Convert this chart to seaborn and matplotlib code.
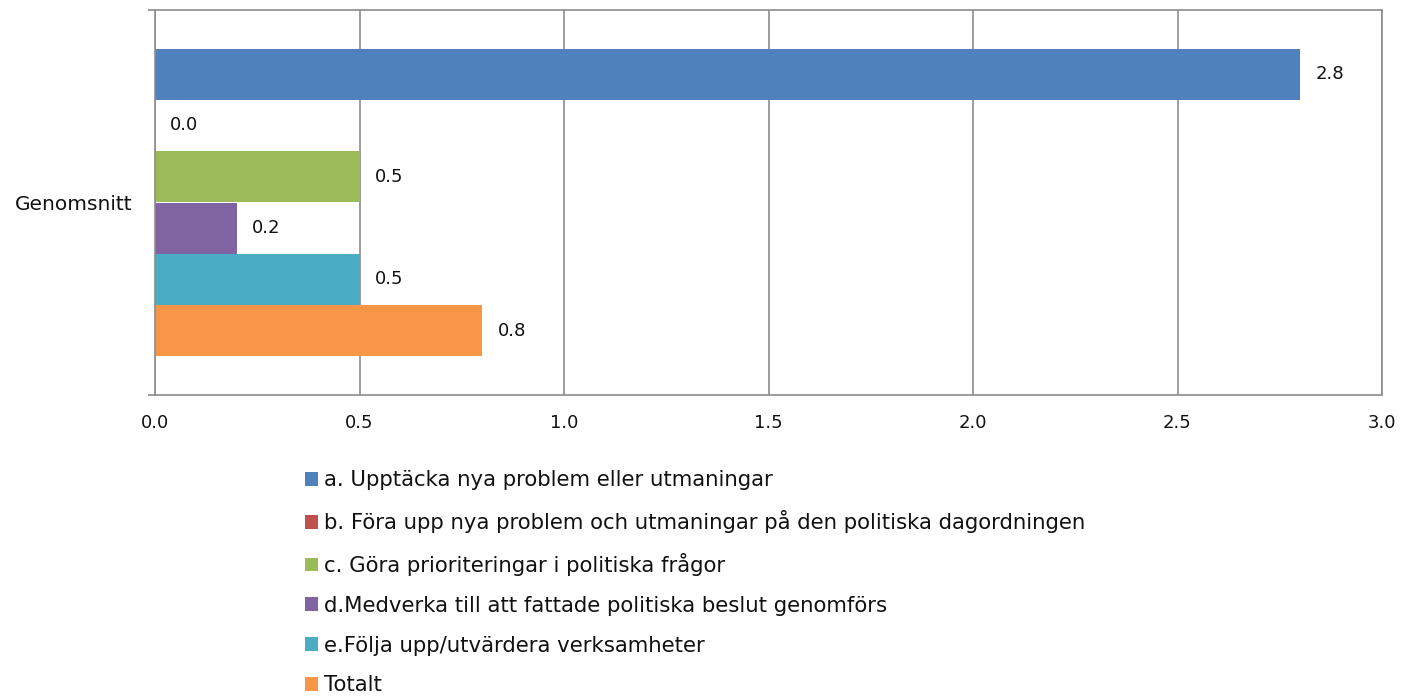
import matplotlib
matplotlib.use("Agg")
import matplotlib.pyplot as plt
import seaborn as sns
import pandas as pd

categories = ["Genomsnitt"]
series = [
    "a. Upptäcka nya problem eller utmaningar",
    "b. Föra upp nya problem och utmaningar på den politiska dagordningen",
    "c. Göra prioriteringar i politiska frågor",
    "d.Medverka till att fattade politiska beslut genomförs",
    "e.Följa upp/utvärdera verksamheter",
    "Totalt",
]
values = [2.8, 0.0, 0.5, 0.2, 0.5, 0.8]
colors = ["#4F81BD", "#C0504D", "#9BBB59", "#8064A2", "#4BACC6", "#F79646"]
xticks = [0.0, 0.5, 1.0, 1.5, 2.0, 2.5, 3.0]

df = pd.DataFrame({"cat": categories * len(series), "serie": series, "value": values})

sns.set_theme(style="white")
plt.rcParams["font.family"] = ["DejaVu Sans"]

fig = plt.figure(figsize=(14.15, 6.97), dpi=100)
ax = fig.add_axes([155 / 1415, 1 - 395 / 697, (1382 - 155) / 1415, (395 - 10) / 697])

sns.barplot(data=df, y="cat", x="value", hue="serie", hue_order=series,
            palette=colors, orient="h", width=0.8, ax=ax, legend=True,
            saturation=1, edgecolor="none", linewidth=0)

gray = "#8C8C8C"
ax.set_xlim(0, 3.0)
ax.set_ylim(0.5, -0.5)
ax.set_xticks(xticks)
ax.set_xticklabels([f"{t:.1f}" for t in xticks])
ax.xaxis.grid(True, color=gray, linewidth=1.2)
ax.set_axisbelow(True)
for s in ax.spines.values():
    s.set_visible(True)
    s.set_color(gray)
    s.set_linewidth(1.2)
ax.set_xlabel("")
ax.set_ylabel("")
ax.tick_params(axis="x", length=0, pad=14, labelsize=13, labelcolor="#111111")
ax.tick_params(axis="y", which="major", length=0, pad=16, labelsize=14.5, labelcolor="#111111")
ax.set_yticks([-0.5, 0.5], minor=True)
ax.tick_params(axis="y", which="minor", length=5, width=1.2, color=gray, left=True)

for cont in ax.containers:
    ax.bar_label(cont, fmt="%.1f", padding=11, fontsize=13, color="#111111")

handles, labels = ax.get_legend_handles_labels()
ax.get_legend().remove()
fig.legend(handles, labels, loc="upper left",
           bbox_to_anchor=(296 / 1415, 1 - 462 / 697),
           frameon=False, fontsize=15.3, handlelength=0.62, handleheight=0.62,
           handletextpad=0.3, labelspacing=0.93, borderaxespad=0,
           labelcolor="#111111")

fig.savefig("out.png", dpi=100)
